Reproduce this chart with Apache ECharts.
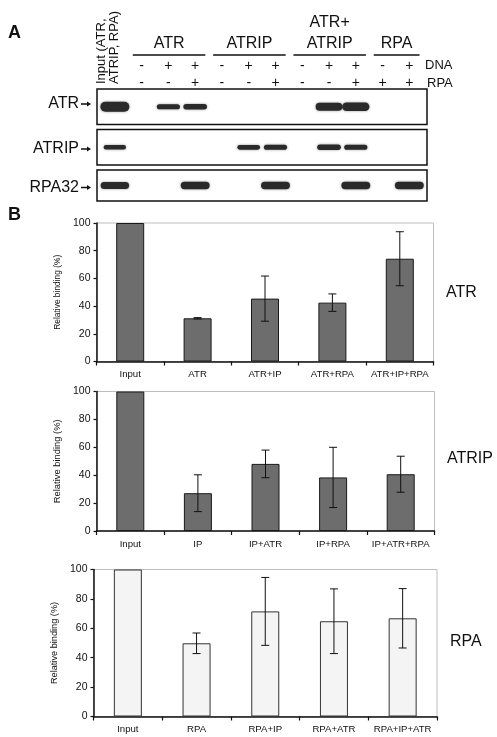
<!DOCTYPE html>
<html><head><meta charset="utf-8">
<script src="https://cdn.jsdelivr.net/npm/echarts@6/dist/echarts.min.js"></script>
<style>html,body{margin:0;padding:0;background:#fff}#c{width:497px;height:737px}</style>
</head><body><div id="c"></div>
<script>
// ---------- Panel A data ----------
const groupNames = ['ATR', 'ATRIP', 'ATR+\nATRIP', 'RPA'];
const groupFirstLane = [1, 4, 7, 10];
const groupLastLane = [3, 6, 9, 11];
const signLanes = [1, 2, 3, 4, 5, 6, 7, 8, 9, 10, 11];
const dnaSigns = ['-', '+', '+', '-', '+', '+', '-', '+', '+', '-', '+'];
const rpaSigns = ['-', '-', '+', '-', '-', '+', '-', '-', '+', '+', '+'];
const blotRowNames = ['ATR', 'ATRIP', 'RPA32'];
const atrBandLanes = [0, 2, 3, 8, 9];
const atrBandIntensity = [1.0, 0.35, 0.4, 0.75, 0.8];
const atripBandLanes = [0, 5, 6, 8, 9];
const atripBandIntensity = [0.25, 0.3, 0.35, 0.4, 0.35];
const rpaBandLanes = [0, 3, 6, 9, 11];
const rpaBandIntensity = [0.6, 0.65, 0.65, 0.65, 0.65];

// ---------- Panel B data ----------
const atrCats = ['Input', 'ATR', 'ATR+IP', 'ATR+RPA', 'ATR+IP+RPA'];
const atrMeans = [100, 31.2, 45.4, 42.5, 74.2];
const atrErr = [0, 0.5, 16.3, 6.3, 19.5];
const atripCats = ['Input', 'IP', 'IP+ATR', 'IP+RPA', 'IP+ATR+RPA'];
const atripMeans = [100, 27.1, 48.1, 38.4, 40.7];
const atripErr = [0, 13.2, 9.9, 21.6, 12.9];
const rpaCats = ['Input', 'RPA', 'RPA+IP', 'RPA+ATR', 'RPA+IP+ATR'];
const rpaMeans = [100, 49.8, 71.5, 64.8, 66.8];
const rpaErr = [0, 7, 23.1, 22, 20.2];
const yTicks = [0, 20, 40, 60, 80, 100];

const FONT = 'Liberation Sans, Arial, sans-serif';
const chart = echarts.init(document.getElementById('c'));

const laneMin = -0.667, laneMax = 11.66;
const blotLeft = 97, blotWidth = 330;

const grids = [
  {left: blotLeft, width: blotWidth, top: 0, height: 89},          // header
  {left: blotLeft, width: blotWidth, top: 89, height: 35.5, show: true, borderColor: '#111', borderWidth: 1.5, backgroundColor: '#fff'},
  {left: blotLeft, width: blotWidth, top: 129.5, height: 35.5, show: true, borderColor: '#111', borderWidth: 1.5, backgroundColor: '#fff'},
  {left: blotLeft, width: blotWidth, top: 170, height: 31, show: true, borderColor: '#111', borderWidth: 1.5, backgroundColor: '#fff'},
  {left: 96.5, width: 337, top: 223, height: 138.5, show: true, borderColor: '#bdbdbd', borderWidth: 1},
  {left: 96.5, width: 338, top: 391.5, height: 139.5, show: true, borderColor: '#bdbdbd', borderWidth: 1},
  {left: 93.5, width: 343.5, top: 569.5, height: 147, show: true, borderColor: '#bdbdbd', borderWidth: 1}
];

const xAxes = [], yAxes = [];
for (let i = 0; i < 4; i++) {
  xAxes.push({type: 'value', gridIndex: i, min: laneMin, max: laneMax, show: false});
  yAxes.push({type: 'value', gridIndex: i, min: 0, max: 1, show: false});
}
const barCats = [atrCats, atripCats, rpaCats];
const yNames = ['Relative binding (%)', 'Relative binding (%)', 'Relative binding (%)'];
const yNameSize = [8.4, 9.4, 9.2];
const yNameGap = [33, 32, 33];
for (let k = 0; k < 3; k++) {
  xAxes.push({
    type: 'category', gridIndex: 4 + k, data: barCats[k],
    axisLine: {lineStyle: {color: '#111', width: 1.5}},
    axisTick: {show: true, length: 4, lineStyle: {color: '#111', width: 1.2}},
    axisLabel: {fontSize: 9.6, color: '#111', margin: 8, fontFamily: FONT, interval: 0}
  });
  yAxes.push({
    type: 'value', gridIndex: 4 + k, min: 0, max: 100, interval: 20,
    splitLine: {show: false},
    axisLine: {show: true, lineStyle: {color: '#111', width: 1.5}},
    axisTick: {show: true, length: 3, lineStyle: {color: '#111', width: 1.2}},
    axisLabel: {fontSize: 10.5, color: '#111', margin: 6, fontFamily: FONT},
    name: yNames[k], nameLocation: 'middle', nameRotate: 90, nameGap: yNameGap[k],
    nameTextStyle: {fontSize: yNameSize[k], color: '#111', fontFamily: FONT}
  });
}

const series = [];
// header: group headings with underline
series.push({
  type: 'custom', xAxisIndex: 0, yAxisIndex: 0,
  data: groupFirstLane.map((f, i) => [f, groupLastLane[i]]),
  renderItem: function (params, api) {
    const i = params.dataIndex;
    const x0 = api.coord([api.value(0) - 0.33, 0])[0];
    const x1 = api.coord([api.value(1) + 0.38, 0])[0];
    const top = params.coordSys.y;
    return {type: 'group', children: [
      {type: 'line', shape: {x1: x0, y1: top + 55, x2: x1, y2: top + 55}, style: {stroke: '#111', lineWidth: 1.3}},
      {type: 'text', x: (x0 + x1) / 2, y: top + 54, style: {text: groupNames[i], fontSize: 16, lineHeight: 21, align: 'center', verticalAlign: 'bottom', fill: '#111', fontFamily: FONT}}
    ]};
  }
});
// header: DNA / RPA signs
series.push({
  type: 'custom', xAxisIndex: 0, yAxisIndex: 0,
  data: signLanes.map(l => [l, 0]),
  renderItem: function (params, api) {
    const i = params.dataIndex;
    const x = api.coord([api.value(0), 0])[0];
    const top = params.coordSys.y;
    return {type: 'group', children: [
      {type: 'text', x: x, y: top + 66, style: {text: dnaSigns[i], fontSize: 14, align: 'center', verticalAlign: 'middle', fill: '#111', fontFamily: FONT}},
      {type: 'text', x: x, y: top + 83, style: {text: rpaSigns[i], fontSize: 14, align: 'center', verticalAlign: 'middle', fill: '#111', fontFamily: FONT}}
    ]};
  }
});
// blot bands
const bandSets = [[atrBandLanes, atrBandIntensity], [atripBandLanes, atripBandIntensity], [rpaBandLanes, rpaBandIntensity]];
const bandWidthBase = [20, 20, 23];
bandSets.forEach((bs, r) => {
  series.push({
    type: 'custom', xAxisIndex: 1 + r, yAxisIndex: 1 + r,
    data: bs[0].map((l, j) => [l, 0.5, bs[1][j]]),
    renderItem: function (params, api) {
      const c = api.coord([api.value(0), api.value(1)]);
      const I = api.value(2);
      const w = bandWidthBase[r] + 9 * I;
      const t = 2.5 + 7.5 * I;
      return {type: 'rect', shape: {x: c[0] - w / 2, y: c[1] - t / 2, width: w, height: t, r: t / 2},
        style: {fill: '#2a2a2a', shadowBlur: 2.5, shadowColor: 'rgba(0,0,0,0.45)'}};
    }
  });
});
// bar charts
const means = [atrMeans, atripMeans, rpaMeans];
const errs = [atrErr, atripErr, rpaErr];
const barFill = ['#6d6d6d', '#6d6d6d', '#f4f4f4'];
const barStroke = ['#1a1a1a', '#1a1a1a', '#333'];
for (let k = 0; k < 3; k++) {
  series.push({
    type: 'bar', xAxisIndex: 4 + k, yAxisIndex: 4 + k, data: means[k], barWidth: 28,
    itemStyle: {color: barFill[k], borderColor: barStroke[k], borderWidth: 1},
    silent: true
  });
  series.push({
    type: 'custom', xAxisIndex: 4 + k, yAxisIndex: 4 + k,
    data: means[k].map((m, i) => [i, m - errs[k][i], m + errs[k][i]]).filter((d, i) => errs[k][i] > 0),
    z: 5,
    renderItem: function (params, api) {
      const lo = api.coord([api.value(0), api.value(1)]);
      const hi = api.coord([api.value(0), api.value(2)]);
      const cw = 4;
      const st = {stroke: '#111', lineWidth: 1};
      return {type: 'group', children: [
        {type: 'line', shape: {x1: lo[0], y1: lo[1], x2: hi[0], y2: hi[1]}, style: st},
        {type: 'line', shape: {x1: lo[0] - cw, y1: lo[1], x2: lo[0] + cw, y2: lo[1]}, style: st},
        {type: 'line', shape: {x1: hi[0] - cw, y1: hi[1], x2: hi[0] + cw, y2: hi[1]}, style: st}
      ]};
    }
  });
}

// text annotations
function arrow(xEnd, y) {
  return [
    {type: 'line', shape: {x1: xEnd - 10, y1: y, x2: xEnd - 3, y2: y}, style: {stroke: '#111', lineWidth: 1.5}},
    {type: 'polygon', shape: {points: [[xEnd - 4, y - 2.5], [xEnd, y], [xEnd - 4, y + 2.5]]}, style: {fill: '#111'}}
  ];
}
const rowLabelY = [104, 149, 187.5];
const graphic = [
  {type: 'text', x: 8, y: 33, style: {text: 'A', fontSize: 18, fontWeight: 'bold', fill: '#111', fontFamily: FONT, verticalAlign: 'middle'}},
  {type: 'text', x: 8, y: 215, style: {text: 'B', fontSize: 18, fontWeight: 'bold', fill: '#111', fontFamily: FONT, verticalAlign: 'middle'}},
  {type: 'text', x: 108, y: 84, rotation: Math.PI / 2, style: {text: 'Input (ATR,\nATRIP, RPA)', fontSize: 13, lineHeight: 13.5, fill: '#111', fontFamily: FONT, align: 'left', verticalAlign: 'middle'}},
  {type: 'text', x: 425, y: 65.5, style: {text: 'DNA', fontSize: 13, fill: '#111', fontFamily: FONT, verticalAlign: 'middle'}},
  {type: 'text', x: 427, y: 83, style: {text: 'RPA', fontSize: 13, fill: '#111', fontFamily: FONT, verticalAlign: 'middle'}},
  {type: 'text', x: 446, y: 293, style: {text: 'ATR', fontSize: 16, fill: '#111', fontFamily: FONT, verticalAlign: 'middle'}},
  {type: 'text', x: 447, y: 459, style: {text: 'ATRIP', fontSize: 16, fill: '#111', fontFamily: FONT, verticalAlign: 'middle'}},
  {type: 'text', x: 450, y: 642, style: {text: 'RPA', fontSize: 16, fill: '#111', fontFamily: FONT, verticalAlign: 'middle'}}
];
blotRowNames.forEach((n, i) => {
  graphic.push({type: 'text', x: 79, y: rowLabelY[i], style: {text: n, fontSize: 16, fill: '#111', fontFamily: FONT, align: 'right', verticalAlign: 'middle'}});
  arrow(91, rowLabelY[i]).forEach(g => graphic.push(g));
});

chart.setOption({
  animation: false,
  backgroundColor: '#fff',
  grid: grids, xAxis: xAxes, yAxis: yAxes, series: series, graphic: graphic
});
</script></body></html>
